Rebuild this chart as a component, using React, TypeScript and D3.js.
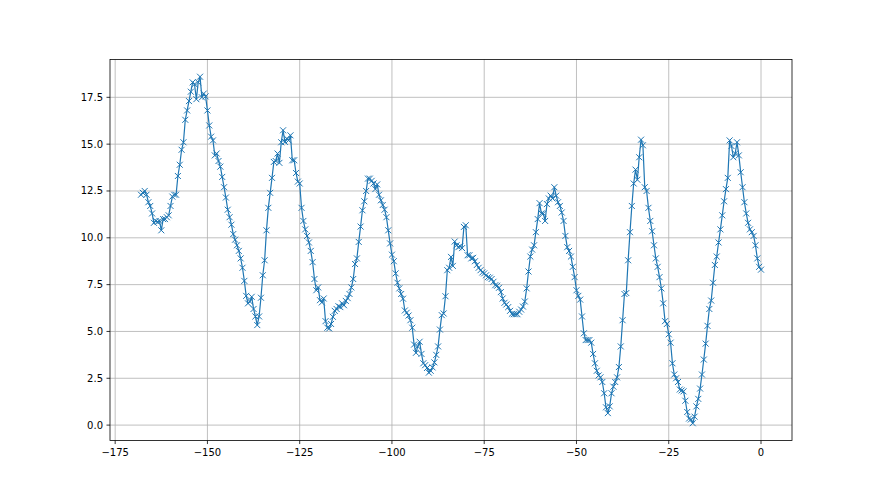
import React from "react";
import * as d3 from "d3";

// x positions: hourly samples every half unit from -168 to 0
const X_START = -168;
const X_STEP = 0.5;

const segA = [12.3, 12.4, 12.5, 12.3, 11.9, 11.7, 11.3, 10.8, 10.9, 10.85,
  10.9, 10.4, 11.0, 11.0, 11.1, 11.2, 11.7, 12.2, 12.3, 12.3,
  13.3, 13.9, 14.7, 15.1, 16.3, 16.8, 17.3, 17.8, 18.3, 18.2,
  17.4, 18.3, 18.6, 17.5, 17.7, 17.55, 16.8, 16.0, 15.4, 15.2,
  14.4, 14.5, 14.1, 13.8, 13.25, 12.7, 12.15, 11.5, 11.1, 10.7];

const segB = [10.2, 9.9, 9.6, 9.3,
  8.9, 8.4, 7.7, 6.9, 6.5, 6.6, 6.85, 6.2, 5.8, 5.34,
  5.8, 6.8, 8.0, 8.8, 10.4, 11.6, 12.4, 13.2, 14.05, 14.1,
  14.5, 14.0, 15.1, 15.74, 15.12, 15.3, 15.2, 15.47, 14.14, 14.14,
  13.46, 13.0, 12.9, 11.6, 10.9, 10.45, 10.1, 9.75, 9.3, 8.7,
  7.8, 7.2, 7.35, 6.67, 6.55, 6.76, 5.55, 5.2, 5.16, 5.4,
  5.78, 6.1, 6.2, 6.35, 6.3, 6.5, 6.4, 6.63, 6.78, 7.0,
  7.35, 7.8, 8.6, 8.9, 9.78, 10.6];

const segC = [11.47, 11.95, 12.5, 13.16, 13.16, 13.04, 12.9, 12.6, 12.85, 12.3,
  12.0, 11.75, 11.5, 11.1, 10.4, 9.7, 9.1, 8.75, 8.1, 7.6,
  7.3, 7.0, 6.75, 6.12, 6.0, 5.85, 5.6, 5.2, 4.3, 3.86,
  4.2, 4.45, 3.8, 3.3, 3.2, 3.05, 2.8, 2.9, 3.08, 3.35,
  3.75, 4.2, 5.1, 5.87, 5.96, 6.88, 8.27, 8.4, 8.98, 8.5,
  9.8, 9.6, 9.5, 9.55, 9.45, 10.58, 10.67, 9.07, 9.07];

const segD = [8.9, 8.93, 8.75, 8.55, 8.4, 8.27, 8.15, 8.1, 8.0, 7.9,
  7.87, 7.8, 7.65, 7.47, 7.44, 7.33, 7.1, 6.76, 6.53, 6.44,
  6.3, 6.1, 5.94, 5.92, 5.92, 5.92, 6.05, 6.17, 6.33, 6.6,
  7.3, 8.2, 9.0, 9.37, 9.6, 10.3, 11.0, 11.85, 11.3, 11.3,
  10.9, 11.8, 12.1, 12.25, 12.1, 12.7, 12.25, 11.9, 11.7, 11.35,
  10.9, 10.1, 9.5, 9.3, 9.0, 8.45, 7.9, 7.2, 6.9];

const segE = [6.7, 5.8, 4.9, 4.54, 4.54, 4.54, 4.4, 3.8, 3.3, 2.9,
  2.65, 2.55, 2.3, 1.7, 0.95, 0.64, 1.0, 1.7, 2.05, 2.3,
  2.55, 3.1, 4.2, 5.6, 7.0, 7.05, 8.8, 10.3, 11.7, 12.9,
  13.64, 13.1, 14.3, 15.24, 14.94, 12.7, 12.5, 11.6, 10.9, 10.35,
  9.6, 8.9, 8.45, 7.9, 7.3, 6.5, 5.55, 5.4, 4.85, 4.4,
  3.3, 2.7, 2.5, 2.3, 1.9, 1.85, 1.8, 1.3, 0.7, 0.35,
  0.3, 0.1, 0.45, 1.0, 1.4, 1.95, 2.7, 3.5, 4.35, 5.3,
  6.2, 6.65, 7.6, 8.55, 9.0, 9.75, 10.45, 11.2, 11.95, 12.6,
  13.2, 15.2, 14.9, 14.3, 14.5, 15.1, 14.4, 13.5, 12.7, 11.9,
  11.3, 10.8, 10.45, 10.3, 10.1, 9.6, 8.9, 8.45, 8.3];

const values: number[] = [...segA, ...segB, ...segC, ...segD, ...segE];

const xTicks = [-175, -150, -125, -100, -75, -50, -25, 0];
const yTicks = [0, 2.5, 5, 7.5, 10, 12.5, 15, 17.5];

const W = 880;
const H = 495;
const left = 110;
const right = 792;
const top = 59.4;
const bottom = 440.55;

const fmtMinus = (s: string) => s.replace("-", "\u2212");

export default function App() {
  const data = values.map((v, i) => ({ x: X_START + i * X_STEP, y: v }));
  const xExt = d3.extent(data, (d) => d.x) as [number, number];
  const yExt = d3.extent(data, (d) => d.y) as [number, number];
  const xm = (xExt[1] - xExt[0]) * 0.05;
  const ym = (yExt[1] - yExt[0]) * 0.05;
  const x = d3.scaleLinear().domain([xExt[0] - xm, xExt[1] + xm]).range([left, right]);
  const y = d3.scaleLinear().domain([yExt[0] - ym, yExt[1] + ym]).range([bottom, top]);
  const line = d3.line<{ x: number; y: number }>().x((d) => x(d.x)).y((d) => y(d.y));
  const color = "#1f77b4";
  const ms = 3;
  const markers = data
    .map((d) => {
      const cx = x(d.x);
      const cy = y(d.y);
      return `M${cx - ms},${cy - ms}L${cx + ms},${cy + ms}M${cx - ms},${cy + ms}L${cx + ms},${cy - ms}`;
    })
    .join("");

  return (
    <div style={{ position: "fixed", left: 0, top: 0, width: W, height: H, background: "#fff" }}>
      <svg width={W} height={H} style={{ display: "block" }} fontFamily="DejaVu Sans, sans-serif">
        <rect x={0} y={0} width={W} height={H} fill="#fff" />
        <g>
          {xTicks.map((t) => (
            <line key={"gx" + t} x1={x(t)} x2={x(t)} y1={top} y2={bottom} stroke="#b0b0b0" strokeWidth={0.8} />
          ))}
          {yTicks.map((t) => (
            <line key={"gy" + t} x1={left} x2={right} y1={y(t)} y2={y(t)} stroke="#b0b0b0" strokeWidth={0.8} />
          ))}
        </g>
        <path d={line(data) || ""} fill="none" stroke={color} strokeWidth={1.2} strokeLinejoin="round" />
        <path d={markers} fill="none" stroke={color} strokeWidth={1} />
        <rect x={left} y={top} width={right - left} height={bottom - top} fill="none" stroke="#000" strokeWidth={0.8} />
        {xTicks.map((t) => (
          <g key={"tx" + t}>
            <line x1={x(t)} x2={x(t)} y1={bottom} y2={bottom + 3.5} stroke="#000" strokeWidth={0.8} />
            <text x={x(t)} y={bottom + 7} dy="0.8em" textAnchor="middle" fontSize={10} fill="#000">
              {fmtMinus(String(t))}
            </text>
          </g>
        ))}
        {yTicks.map((t) => (
          <g key={"ty" + t}>
            <line x1={left - 3.5} x2={left} y1={y(t)} y2={y(t)} stroke="#000" strokeWidth={0.8} />
            <text x={left - 7} y={y(t)} dy="0.35em" textAnchor="end" fontSize={10} fill="#000">
              {t.toFixed(1)}
            </text>
          </g>
        ))}
      </svg>
    </div>
  );
}
